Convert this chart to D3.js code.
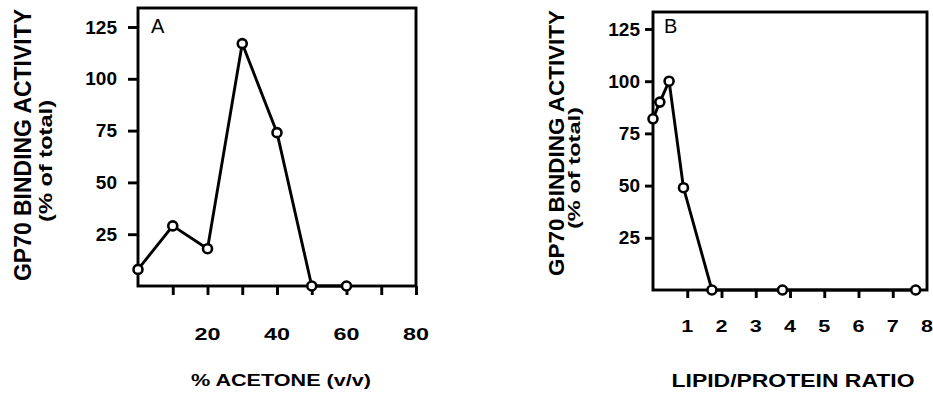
<!DOCTYPE html>
<html>
<head>
<meta charset="utf-8">
<script src="https://cdn.jsdelivr.net/npm/d3@7"></script>
<style>
  html, body { margin: 0; padding: 0; background: #fff; }
  svg { display: block; }
  text { font-family: "Liberation Sans", Arial, Helvetica, sans-serif; fill: #000; }
</style>
</head>
<body>
<svg id="chart" width="933" height="394"></svg>
<script>
// Panel A: binding activity vs acetone concentration
const acetonePct = [0, 10, 20, 30, 40, 50, 60];
const acetoneActivity = [8, 29, 18, 117, 74, 0, 0];

// Panel B: binding activity vs lipid/protein ratio
const lipidRatio = [0, 0.2, 0.47, 0.89, 1.72, 3.78, 7.67];
const lipidActivity = [82, 90, 100, 49, 0, 0, 0];

// Tick labels
const yTickValues = [25, 50, 75, 100, 125];
const xTicksA = [10, 20, 30, 40, 50, 60, 70, 80];
const xLabelsA = [20, 40, 60, 80];
const xTicksB = [1, 2, 3, 4, 5, 6, 7];
const xLabelsB = [1, 2, 3, 4, 5, 6, 7, 8];

const yTitle1 = "GP70 BINDING ACTIVITY";
const yTitle2 = "(% of total)";
const xTitleA = "% ACETONE (v/v)";
const xTitleB = "LIPID/PROTEIN RATIO";

const svg = d3.select("#chart");
const INK = "#000";
const SW = 2.9;

function drawPanel(cfg) {
  const g = svg.append("g");
  const x = d3.scaleLinear().domain(cfg.xDomain).range(cfg.xRange);
  const y = d3.scaleLinear().domain([0, 125]).range(cfg.yRange);

  // frame
  g.append("rect")
    .attr("x", x(cfg.xDomain[0])).attr("y", cfg.frameTop)
    .attr("width", x(cfg.xDomain[1]) - x(cfg.xDomain[0]))
    .attr("height", y(0) - cfg.frameTop)
    .attr("fill", "none").attr("stroke", INK).attr("stroke-width", SW);

  // y axis ticks + labels
  const yAxis = d3.axisLeft(y).tickValues(yTickValues).tickSize(cfg.yTickLen)
    .tickPadding(cfg.yTickPad).tickSizeOuter(0);
  const ya = g.append("g").attr("transform", `translate(${x(cfg.xDomain[0])},0)`).call(yAxis);
  ya.select(".domain").remove();
  ya.selectAll(".tick line").attr("stroke", INK).attr("stroke-width", SW);
  ya.selectAll(".tick text")
    .attr("font-size", cfg.yLabelSize).attr("font-weight", "bold")
    .attr("fill", INK).attr("font-family", null);

  // x axis ticks
  const xAxis = d3.axisBottom(x).tickValues(cfg.xTicks).tickSize(cfg.xTickLen)
    .tickFormat("").tickSizeOuter(0);
  const xa = g.append("g").attr("transform", `translate(0,${y(0)})`).call(xAxis);
  xa.select(".domain").remove();
  xa.selectAll(".tick line").attr("stroke", INK).attr("stroke-width", SW);

  // x labels
  g.append("g").selectAll("text").data(cfg.xLabels).join("text")
    .attr("x", d => x(d)).attr("y", cfg.xLabelY)
    .attr("text-anchor", "middle")
    .attr("font-size", cfg.xLabelSize).attr("font-weight", "bold")
    .attr("textLength", d => cfg.xLabelWidth * String(d).length)
    .attr("lengthAdjust", "spacingAndGlyphs")
    .text(d => d);

  // x title
  g.append("text")
    .attr("x", cfg.xTitleX).attr("y", cfg.xTitleY)
    .attr("text-anchor", "middle")
    .attr("font-size", cfg.xTitleSize).attr("font-weight", "bold")
    .attr("textLength", cfg.xTitleLen).attr("lengthAdjust", "spacingAndGlyphs")
    .text(cfg.xTitle);

  // y titles (two rotated lines)
  g.append("text")
    .attr("transform", `translate(${cfg.yT1x},${cfg.yT1y}) rotate(-90)`)
    .attr("text-anchor", "middle")
    .attr("font-size", cfg.yT1Size).attr("font-weight", "bold")
    .attr("textLength", cfg.yT1Len).attr("lengthAdjust", "spacingAndGlyphs")
    .text(yTitle1);
  g.append("text")
    .attr("transform", `translate(${cfg.yT2x},${cfg.yT2y}) rotate(-90)`)
    .attr("text-anchor", "middle")
    .attr("font-size", cfg.yT2Size).attr("font-weight", "bold")
    .attr("textLength", cfg.yT2Len).attr("lengthAdjust", "spacingAndGlyphs")
    .text(yTitle2);

  // panel letter
  g.append("text")
    .attr("x", cfg.letterX).attr("y", cfg.letterY)
    .attr("font-size", 20)
    .text(cfg.letter);

  // data line and open circles
  const pts = cfg.xs.map((v, i) => [v, cfg.ys[i]]);
  g.append("path")
    .datum(pts)
    .attr("d", d3.line().x(d => x(d[0])).y(d => y(d[1])))
    .attr("fill", "none").attr("stroke", INK).attr("stroke-width", SW)
    .attr("stroke-linejoin", "round");
  g.append("g").selectAll("circle").data(pts).join("circle")
    .attr("cx", d => x(d[0])).attr("cy", d => y(d[1]))
    .attr("r", 4.5)
    .attr("fill", "#fff").attr("stroke", INK).attr("stroke-width", 2.6);
}

drawPanel({
  xs: acetonePct, ys: acetoneActivity,
  xDomain: [0, 80], xRange: [138, 416],
  yRange: [286, 27], frameTop: 8,
  yTickLen: 10, yTickPad: 11, yLabelSize: 19,
  xTicks: xTicksA, xTickLen: 9,
  xLabels: xLabelsA, xLabelY: 340, xLabelSize: 17, xLabelWidth: 13,
  xTitle: xTitleA, xTitleX: 281, xTitleY: 386, xTitleSize: 17, xTitleLen: 180,
  yT1x: 31, yT1y: 145, yT1Size: 23, yT1Len: 272,
  yT2x: 52, yT2y: 161, yT2Size: 19, yT2Len: 122,
  letter: "A", letterX: 151, letterY: 33
});

drawPanel({
  xs: lipidRatio, ys: lipidActivity,
  xDomain: [0, 8], xRange: [653, 927],
  yRange: [290, 29], frameTop: 12,
  yTickLen: 8, yTickPad: 5, yLabelSize: 19,
  xTicks: xTicksB, xTickLen: 8,
  xLabels: xLabelsB, xLabelY: 332, xLabelSize: 17, xLabelWidth: 12,
  xTitle: xTitleB, xTitleX: 793, xTitleY: 387, xTitleSize: 19, xTitleLen: 243,
  yT1x: 564, yT1y: 143, yT1Size: 22, yT1Len: 266,
  yT2x: 580, yT2y: 168, yT2Size: 17, yT2Len: 122,
  letter: "B", letterX: 664, letterY: 33
});
</script>
</body>
</html>
